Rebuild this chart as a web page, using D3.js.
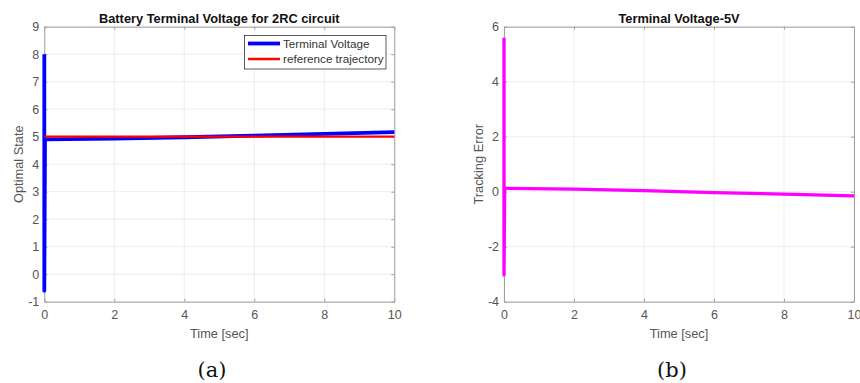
<!DOCTYPE html>
<html><head><meta charset="utf-8">
<script src="https://cdn.jsdelivr.net/npm/d3@7"></script>
<style>body{margin:0;background:#fff}svg{display:block}</style>
</head><body>
<svg id="c" width="860" height="383"></svg>
<script>
// Data
const timeA = [0, 0, 0.02, 2, 4, 6, 8, 10];
const terminalVoltage = [8, -0.6, 4.9, 4.93, 4.98, 5.04, 5.1, 5.17];
const refTime = [0, 10];
const referenceTrajectory = [5, 5];
const timeB = [0, 0, 0.02, 2, 4, 6, 8, 10];
const trackingError = [5.6, -3.03, 0.12, 0.09, 0.04, -0.03, -0.09, -0.15];
const xTicks = [0, 2, 4, 6, 8, 10];
const yTicksA = [-1, 0, 1, 2, 3, 4, 5, 6, 7, 8, 9];
const yTicksB = [-4, -2, 0, 2, 4, 6];

const svg = d3.select("#c");
const plotTop = 26.7, plotBottom = 301.7;
const sans = "Liberation Sans, Arial, sans-serif";

function panel(opts) {
  const g = svg.append("g");
  const x = d3.scaleLinear().domain([0, 10]).range([opts.x0, opts.x1]);
  const y = d3.scaleLinear().domain(opts.yDomain).range([plotBottom, plotTop]);
  // grid
  g.append("g").selectAll("line").data(xTicks).join("line")
    .attr("x1", d => x(d)).attr("x2", d => x(d)).attr("y1", plotTop).attr("y2", plotBottom)
    .attr("stroke", "#e8e8e8").attr("stroke-width", 0.8);
  g.append("g").selectAll("line").data(opts.yTicks).join("line")
    .attr("x1", opts.x0).attr("x2", opts.x1).attr("y1", d => y(d)).attr("y2", d => y(d))
    .attr("stroke", "#e8e8e8").attr("stroke-width", 0.8);
  // axes (ticks inward)
  const ax = (gen, tr) => {
    const a = g.append("g").attr("transform", tr).call(gen);
    a.select(".domain").attr("stroke", "#a0a0a0");
    a.selectAll(".tick line").attr("stroke", "#a0a0a0");
    a.selectAll("text").attr("fill", "#555").style("font-family", sans).style("font-size", "12.5px");
    return a;
  };
  ax(d3.axisBottom(x).tickValues(xTicks).tickSizeInner(-3).tickSizeOuter(0).tickPadding(8.5).tickFormat(d => String(d)), `translate(0,${plotBottom})`);
  ax(d3.axisTop(x).tickValues(xTicks).tickSizeInner(-3).tickSizeOuter(0).tickFormat(""), `translate(0,${plotTop})`);
  ax(d3.axisLeft(y).tickValues(opts.yTicks).tickSizeInner(-3).tickSizeOuter(0).tickPadding(5).tickFormat(d => String(d)), `translate(${opts.x0},0)`);
  ax(d3.axisRight(y).tickValues(opts.yTicks).tickSizeInner(-3).tickSizeOuter(0).tickFormat(""), `translate(${opts.x1},0)`);

  const line = d3.line().x(d => x(d[0])).y(d => y(d[1]));
  opts.series.forEach(s => {
    g.append("path").datum(s.t.map((t, i) => [t, s.v[i]]))
      .attr("d", line).attr("fill", "none").attr("stroke", s.color)
      .attr("stroke-width", s.w).attr("stroke-linejoin", "round");
  });
  const cx = (opts.x0 + opts.x1) / 2;
  g.append("text").attr("x", cx).attr("y", 23).attr("text-anchor", "middle")
    .style("font-family", sans).style("font-size", "12.8px")
    .style("font-weight", "bold").attr("fill", "#111").text(opts.title);
  g.append("text").attr("x", cx).attr("y", 337.5).attr("text-anchor", "middle")
    .style("font-family", sans).style("font-size", "12.8px")
    .attr("fill", "#555").text("Time [sec]");
  g.append("text").attr("transform", `translate(${opts.ylabX},${(plotTop + plotBottom) / 2}) rotate(-90)`)
    .attr("text-anchor", "middle")
    .style("font-family", sans).style("font-size", "12.8px")
    .attr("fill", "#555").text(opts.ylabel);
  g.append("text").attr("x", opts.capX).attr("y", 377).attr("text-anchor", "middle")
    .style("font-family", "DejaVu Serif, Liberation Serif, serif").style("font-size", "21px")
    .attr("fill", "#111").text(opts.caption);
  return {g, x, y};
}

const A = panel({
  x0: 44.3, x1: 394.3, yDomain: [-1, 9], yTicks: yTicksA,
  title: "Battery Terminal Voltage for 2RC circuit", ylabel: "Optimal State", ylabX: 22.5,
  caption: "(a)", capX: 212,
  series: [
    {t: timeA, v: terminalVoltage, color: "#0000ff", w: 3.8},
    {t: refTime, v: referenceTrajectory, color: "#ff0000", w: 2.2}
  ]
});

// legend
const leg = A.g.append("g");
leg.append("rect").attr("x", 244.5).attr("y", 35.5).attr("width", 141.5).attr("height", 33.5)
  .attr("fill", "#fff").attr("stroke", "#333").attr("stroke-width", 0.8);
const legendNames = ["Terminal Voltage", "reference trajectory"];
const legendColors = ["#0000ff", "#ff0000"];
const legendW = [3.8, 2.5];
legendNames.forEach((n, i) => {
  const yy = 43.5 + i * 15.5;
  leg.append("line").attr("x1", 248).attr("x2", 280).attr("y1", yy).attr("y2", yy)
    .attr("stroke", legendColors[i]).attr("stroke-width", legendW[i]);
  leg.append("text").attr("x", 283).attr("y", yy + 4).attr("fill", "#333")
    .style("font-family", sans).style("font-size", "11.7px").text(n);
});

panel({
  x0: 504, x1: 854, yDomain: [-4, 6], yTicks: yTicksB,
  title: "Terminal Voltage-5V", ylabel: "Tracking Error", ylabX: 483,
  caption: "(b)", capX: 672,
  series: [{t: timeB, v: trackingError, color: "#ff00ff", w: 3.3}]
});
</script>
</body></html>
